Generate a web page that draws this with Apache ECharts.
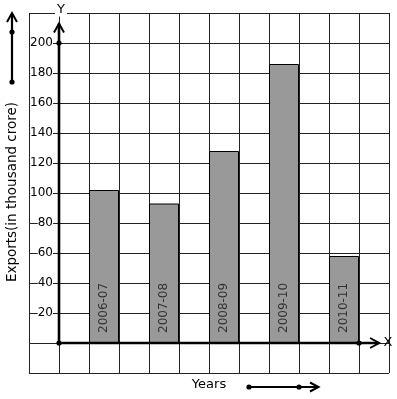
<!DOCTYPE html>
<html><head><meta charset="utf-8">
<script src="https://cdn.jsdelivr.net/npm/echarts@6/dist/echarts.min.js"></script>
<style>html,body{margin:0;padding:0;background:#fff}#c{width:397px;height:399px}</style>
</head><body><div id="c"></div>
<script>
// ---- data ----
const years = ['2006-07', '2007-08', '2008-09', '2009-10', '2010-11'];
const exportValues = [102, 93, 128, 186, 58];
const yTickLabels = [20, 40, 60, 80, 100, 120, 140, 160, 180, 200];
const yAxisTitle = 'Exports(in thousand crore)';
const xAxisTitle = 'Years';

const FONT = 'DejaVu Sans';
const chart = echarts.init(document.getElementById('c'), null, {renderer: 'canvas'});

const barData = years.map((y, i) => ({name: y, value: [1.5 + 2 * i, exportValues[i]]}));

function axesRender(params, api) {
  const o = api.coord([0, 0]);
  const yTop = api.coord([0, 213]);
  const y200 = api.coord([0, 200]);
  const xEnd = api.coord([10.67, 0]);
  const x10 = api.coord([10, 0]);
  const ls = {stroke: '#000', lineWidth: 2.6, fill: null};
  const cs = {stroke: '#000', lineWidth: 2, fill: null};
  return {
    type: 'group',
    children: [
      {type: 'line', shape: {x1: o[0], y1: o[1], x2: yTop[0], y2: yTop[1]}, style: ls},
      {type: 'line', shape: {x1: o[0], y1: o[1], x2: xEnd[0], y2: xEnd[1]}, style: ls},
      {type: 'polyline', shape: {points: [[yTop[0] - 5, yTop[1] + 9], [yTop[0], yTop[1]], [yTop[0] + 5, yTop[1] + 9]]}, style: cs},
      {type: 'polyline', shape: {points: [[xEnd[0] - 9, xEnd[1] - 5], [xEnd[0], xEnd[1]], [xEnd[0] - 9, xEnd[1] + 5]]}, style: cs},
      {type: 'circle', shape: {cx: o[0], cy: o[1], r: 2.6}, style: {fill: '#000'}},
      {type: 'circle', shape: {cx: y200[0], cy: y200[1], r: 2.6}, style: {fill: '#000'}},
      {type: 'circle', shape: {cx: x10[0], cy: x10[1], r: 2.6}, style: {fill: '#000'}}
    ]
  };
}

chart.setOption({
  animation: false,
  backgroundColor: '#fff',
  grid: {left: 29, right: 8, top: 13, bottom: 26, containLabel: false},
  xAxis: {
    type: 'value', min: -1, max: 11, interval: 1,
    axisLine: {show: false}, axisTick: {show: false}, axisLabel: {show: false},
    splitLine: {show: true, lineStyle: {color: '#222', width: 1}}
  },
  yAxis: {
    type: 'value', min: -20, max: 220, interval: 20,
    axisLine: {show: false}, axisTick: {show: false},
    axisLabel: {
      inside: true, margin: 24, align: 'right',
      formatter: v => yTickLabels.includes(v) ? String(v) : '',
      color: '#000', fontSize: 12, fontFamily: FONT,
      backgroundColor: '#fff', padding: 0
    },
    splitLine: {show: true, lineStyle: {color: '#222', width: 1}}
  },
  series: [
    {
      type: 'bar', data: barData, barWidth: 30,
      itemStyle: {color: '#999999', borderColor: '#000', borderWidth: 1},
      label: {
        show: true, position: 'insideBottom', rotate: 90, align: 'left', verticalAlign: 'middle',
        distance: 10, formatter: p => p.name, color: '#333', fontSize: 12, fontFamily: FONT
      },
      z: 3
    },
    {type: 'custom', data: [[0, 0]], renderItem: axesRender, silent: true, z: 5}
  ],
  graphic: [
    {type: 'text', x: 61, y: 10, z: 10, style: {text: 'Y', fontSize: 13, fontFamily: FONT, fill: '#000', align: 'center', verticalAlign: 'middle', backgroundColor: '#fff', padding: [0, 2]}},
    {type: 'text', x: 388, y: 343, z: 10, style: {text: 'X', fontSize: 13, fontFamily: FONT, fill: '#000', align: 'center', verticalAlign: 'middle'}},
    {type: 'text', x: 12, y: 192, rotation: Math.PI / 2, z: 10, style: {text: yAxisTitle, fontSize: 13.5, fontFamily: FONT, fill: '#000', align: 'center', verticalAlign: 'middle'}},
    {type: 'text', x: 209, y: 385, z: 10, style: {text: xAxisTitle, fontSize: 13, fontFamily: FONT, fill: '#000', align: 'center', verticalAlign: 'middle'}},
    // left decorative arrow
    {type: 'line', shape: {x1: 12, y1: 82, x2: 12, y2: 14}, style: {stroke: '#000', lineWidth: 2.2}},
    {type: 'polyline', shape: {points: [[7, 22], [12, 13], [17, 22]]}, style: {stroke: '#000', lineWidth: 2, fill: null}},
    {type: 'circle', shape: {cx: 12, cy: 32, r: 2.6}, style: {fill: '#000'}},
    {type: 'circle', shape: {cx: 12, cy: 82, r: 2.6}, style: {fill: '#000'}},
    // years decorative arrow
    {type: 'line', shape: {x1: 249, y1: 387, x2: 318, y2: 387}, style: {stroke: '#000', lineWidth: 2.2}},
    {type: 'polyline', shape: {points: [[310, 382.5], [318.5, 387], [310, 391.5]]}, style: {stroke: '#000', lineWidth: 2, fill: null}},
    {type: 'circle', shape: {cx: 249, cy: 387, r: 2.6}, style: {fill: '#000'}},
    {type: 'circle', shape: {cx: 299, cy: 387, r: 2.6}, style: {fill: '#000'}}
  ]
});
</script></body></html>
